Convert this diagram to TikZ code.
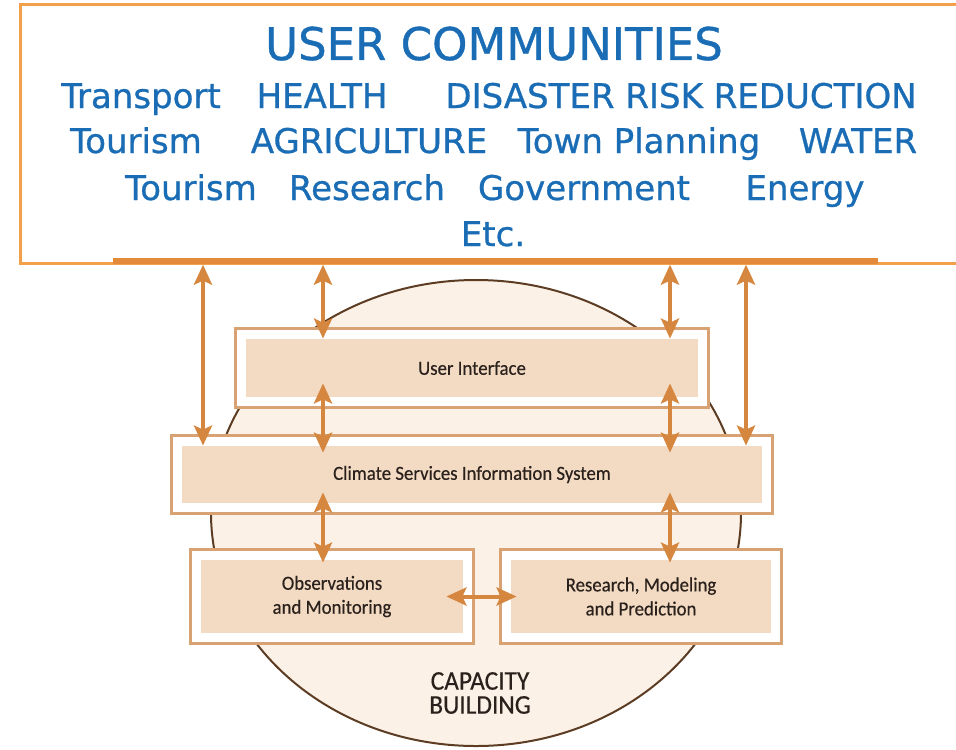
\documentclass[tikz,border=0pt]{standalone}
\usepackage{fontspec}
\setmainfont[FakeBold=0.8]{DejaVu Sans}
\newfontfamily\boxfont[FakeStretch=0.94,FakeBold=0.4]{Carlito}
\usetikzlibrary{arrows.meta,fit,backgrounds}
\definecolor{userblue}{HTML}{1A6DB5}
\definecolor{toporange}{HTML}{F2A04A}
\definecolor{barcol}{HTML}{E38B3A}
\definecolor{arrowcol}{HTML}{D6873F}
\definecolor{framecol}{HTML}{D8A272}
\definecolor{boxfill}{HTML}{F3DAC3}
\definecolor{discfill}{HTML}{FCF1E6}
\definecolor{discline}{HTML}{5C3D24}
\definecolor{boxtext}{HTML}{2A211C}

\begin{document}
\begin{tikzpicture}[x=0.5pt,y=-0.5pt,
  user/.style={anchor=base,text=userblue,font=\fontsize{17}{20}\selectfont},
  inbox/.style={fill=boxfill,inner sep=0pt,text=boxtext,align=center,font=\boxfont\fontsize{10}{12}\selectfont},
  frame/.style={draw=framecol,line width=1.5pt,fill=white,inner sep=5pt},
  link/.style={{Stealth[length=10pt,width=9pt,inset=2pt]}-{Stealth[length=10pt,width=9pt,inset=2pt]},line width=2pt,draw=arrowcol}]
\useasboundingbox (0,0) rectangle (956,749);
\clip (0,0) rectangle (956,749);

% user communities
\draw[toporange,line width=1.5pt] (20,5) rectangle (975,263);
\node[user,font=\fontsize{22.5}{26}\selectfont] (title) at (494,60) {USER COMMUNITIES};
\node[user] (transport) at (141,108) {Transport};
\node[user] (health) at (322,108) {HEALTH};
\node[user] (drr) at (681,108) {DISASTER RISK REDUCTION};
\node[user] (tourism1) at (136,153) {Tourism};
\node[user] (agri) at (369,153) {AGRICULTURE};
\node[user] (town) at (639,153) {Town Planning};
\node[user] (water) at (858,153) {WATER};
\node[user] (tourism2) at (191,200) {Tourism};
\node[user] (research) at (367,200) {Research};
\node[user] (gov) at (584,200) {Government};
\node[user] (energy) at (805,200) {Energy};
\node[user] (etc) at (493,246) {Etc.};
\node[fill=barcol,minimum width=382.5pt,minimum height=3.2pt,inner sep=0pt] (bar) at (495.5,261) {};

% the system
\node[inbox,minimum width=226pt,minimum height=29pt] (ui) at (472,368) {User Interface};
\node[inbox,minimum width=290pt,minimum height=28.5pt] (csis) at (472,474.5) {Climate Services Information System};
\node[inbox,minimum width=131pt,minimum height=36.5pt] (obs) at (332,596.5) {Observations\\and Monitoring};
\node[inbox,minimum width=130pt,minimum height=36.5pt] (rmp) at (641,596.5) {Research, Modeling\\and Prediction};
\node[text=boxtext,align=center,font=\boxfont\fontsize{13.5}{12}\selectfont] (capacity) at (480,693) {CAPACITY\\BUILDING};

\begin{scope}[on background layer]
  \draw[discline,fill=discfill,line width=1pt] (476,513) ellipse [x radius=132.5pt, y radius=116.5pt];
  \foreach \b in {ui,csis,obs,rmp}
    \node[frame,fit=(\b)] {};
\end{scope}

% links
\coordinate (colA) at (203,0);
\coordinate (colB) at (323,0);
\coordinate (colC) at (670,0);
\coordinate (colD) at (746,0);
\draw[link] (bar.south -| colA) -- (csis.north -| colA);
\draw[link] (bar.south -| colB) -- (ui.north -| colB);
\draw[link] (bar.south -| colC) -- (ui.north -| colC);
\draw[link] (bar.south -| colD) -- (csis.north -| colD);
\foreach \c in {colB,colC} {
  \draw[link,shorten <=-7pt,shorten >=-3.5pt] (ui.south -| \c) -- (csis.north -| \c);
  \draw[link,shorten <=-5.5pt,shorten >=-1.5pt] (csis.south -| \c) -- (obs.north -| \c);
}
\draw[link,shorten <=-8.5pt,shorten >=-3pt] (obs.east) -- (rmp.west);
\end{tikzpicture}
\end{document}
